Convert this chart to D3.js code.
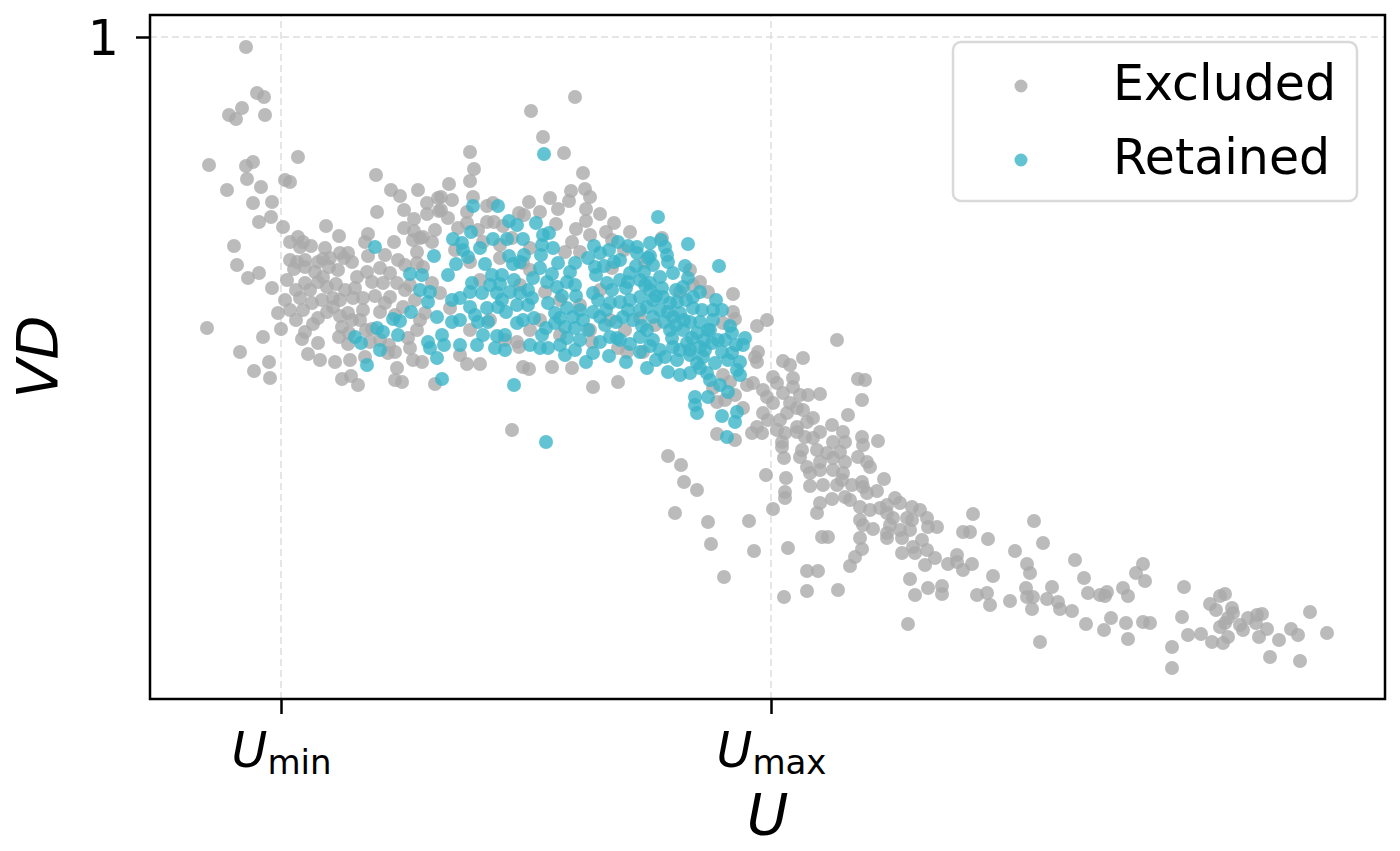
<!DOCTYPE html>
<html>
<head>
<meta charset="utf-8">
<script src="https://cdn.jsdelivr.net/npm/d3@7"></script>
<style>
  body { margin: 0; background: #fff; }
  text { font-family: "DejaVu Sans", sans-serif; fill: #000; }
</style>
</head>
<body>
<div id="chart"></div>
<script>
// U in arbitrary units (U_min = 20, U_max = 69), VD with 1 as the only labelled value
var excluded = [
  [16.5,.990],[17.6,.944],[18.3,.940],[16.1,.929],[14.8,.922],[15.5,.918],[18.4,.922],[21.7,.880],[12.8,.872],[16.5,.871],
  [17.2,.875],[16.6,.858],[20.4,.857],[20.9,.855],[29.5,.862],[14.6,.847],[18.0,.850],[31.0,.847],[17.2,.834],[19.1,.835],
  [29.6,.825],[33.3,.818],[34.6,.834],[34.6,.823],[17.8,.815],[19.0,.820],[20.2,.810],[24.5,.811],[25.8,.801],[28.7,.803],
  [33.3,.806],[21.7,.800],[21.9,.790],[23.0,.791],[28.4,.795],[24.4,.789],[25.9,.784],[26.7,.784],[35.7,.839],[35.8,.826],
  [33.9,.799],[33.2,.797],[35.1,.795],[35.4,.807],[33.6,.785],[15.3,.791],[20.9,.795],[22.2,.795],[15.6,.772],[16.7,.759],
  [17.8,.764],[19.1,.749],[20.6,.757],[21.6,.775],[22.4,.777],[21.3,.768],[22.4,.770],[24.2,.778],[24.9,.779],[24.8,.770],
  [26.3,.779],[23.4,.765],[24.2,.760],[23.7,.755],[24.6,.750],[25.5,.753],[22.4,.754],[21.5,.747],[21.9,.739],[23.1,.734],
  [22.2,.727],[24.6,.725],[25.2,.730],[25.2,.739],[26.7,.724],[27.2,.739],[28.2,.739],[28.2,.727],[27.6,.760],[28.6,.765],
  [29.9,.769],[30.9,.764],[30.2,.754],[31.6,.754],[32.4,.772],[33.6,.774],[19.7,.724],[20.0,.708],[12.6,.709],[18.2,.700],
  [15.9,.685],[17.3,.666],[18.8,.675],[18.9,.659],[23.2,.713],[22.4,.705],[22.1,.698],[23.7,.694],[22.7,.683],[25.8,.700],
  [26.1,.710],[26.8,.704],[26.7,.693],[28.9,.695],[28.4,.680],[30.8,.692],[30.7,.684],[32.7,.699],[33.6,.707],[33.2,.677],
  [34.1,.675],[31.6,.669],[31.4,.657],[32.1,.655],[26.1,.658],[27.0,.661],[27.7,.652],[29.1,.708],[30.4,.734],[29.9,.725],
  [30.9,.740],[32.2,.730],[32.4,.747],[33.4,.737],[31.4,.722],[33.9,.717],[32.9,.752],[27.9,.717],[26.4,.747],[22.9,.747],
  [20.4,.737],[20.9,.777],
  [23.7,.775],[25.7,.767],[27.1,.775],[29.1,.755],[29.4,.741],[27.1,.717],[25.9,.721],[23.7,.719],[21.5,.717],[20.9,.727],
  [24.1,.737],[25.9,.737],[27.4,.749],[28.7,.781],[30.4,.782],[31.7,.777],[31.3,.795],[32.3,.809],[28.5,.707],[29.9,.697],
  [31.4,.685],[32.9,.689],[23.9,.677],[25.4,.675],[26.9,.677],
  [49.4,.940],[45.0,.926],[46.2,.900],[48.3,.884],[38.9,.885],[39.3,.868],[50.2,.864],[38.9,.856],[36.8,.853],[49.0,.846],
  [50.4,.848],[50.9,.840],[36.0,.840],[39.2,.840],[44.8,.835],[46.9,.839],[48.8,.836],[47.7,.828],[50.5,.828],[50.5,.816],
  [53.3,.814],[36.0,.827],[38.6,.825],[40.6,.831],[41.2,.834],[43.8,.824],[44.3,.822],[36.7,.819],[38.6,.814],[40.6,.815],
  [42.2,.811],[34.2,.800],[40.2,.795],[44.9,.789],[49.5,.808],[50.9,.802],[49.1,.795],[48.4,.785],[41.9,.779],[44.2,.774],
  [37.7,.809],[39.7,.807],[41.3,.815],[43.1,.799],[45.9,.825],[47.5,.813],[51.9,.823],[52.5,.805],[54.3,.787],[37.1,.837],
  [33.7,.847],[32.3,.827],[31.9,.841],
  [35.4,.653],[38.6,.673],[39.9,.673],[37.9,.682],[44.2,.670],[44.8,.668],[43.8,.690],[47.1,.670],[49.1,.669],[51.1,.695],
  [53.7,.689],[54.6,.685],[51.2,.650],[53.7,.655],[43.1,.607],[45.9,.717],[34.2,.770],[35.1,.754],[35.9,.744],[34.4,.724],
  [36.9,.729],[42.4,.697],[43.6,.695],
  [39.9,.757],[44.9,.767],[47.9,.737],[51.9,.747],[43.9,.752],[38.9,.775],[46.4,.745],[49.9,.732],[53.1,.769],[53.1,.797],
  [49.9,.785],[54.9,.805],[56.4,.775],[40.9,.717],[38.9,.707],[44.9,.707],[47.9,.702],[50.9,.707],[54.4,.707],[59.9,.745],
  [61.9,.755],[37.4,.787],[41.9,.792],[55.9,.719],[52.9,.717],[57.4,.712],
  [58.1,.799],[60.9,.767],[61.2,.752],[62.7,.745],[65.2,.743],[65.2,.725],[65.4,.718],[64.2,.714],[67.6,.711],[68.6,.717],
  [56.2,.685],[67.7,.685],[67.4,.680],[67.6,.675],[70.2,.676],[70.9,.672],[72.2,.679],[75.6,.697],[71.2,.659],[69.2,.660],
  [69.6,.654],[67.2,.654],[66.6,.652],[64.2,.662],[64.9,.655],[63.2,.649],[63.6,.635],[64.4,.637],[65.4,.642],[66.2,.629],
  [68.2,.647],[68.6,.640],[69.2,.634],[70.2,.644],[71.2,.650],[71.9,.642],[72.7,.642],[73.9,.643],[70.9,.634],[71.6,.629],
  [72.2,.627],[73.2,.619],[72.6,.615],[71.6,.610],[70.6,.624],[69.9,.617],[68.7,.617],[68.2,.624],[67.6,.610],[67.1,.604],
  [68.1,.604],[69.6,.607],[70.4,.604],[70.1,.595],[71.6,.605],[72.4,.600],[73.2,.599],[73.9,.605],[75.1,.612],[76.2,.605],
  [75.2,.595],[76.4,.595],[76.7,.622],[78.1,.637],[77.7,.658],[78.4,.657],[78.1,.600],[78.2,.592],[79.7,.596],[63.6,.603],
  [65.4,.597],
  [70.1,.590],[72.1,.587],[73.6,.587],[74.6,.584],[75.9,.585],[70.3,.579],[71.9,.580],[73.9,.575],[75.2,.579],[76.4,.575],
  [77.7,.580],[78.6,.575],[78.9,.570],[72.6,.570],[73.9,.567],[75.2,.567],[76.2,.564],[72.9,.564],[58.7,.581],[60.0,.572],
  [60.3,.555],[61.6,.547],[68.5,.562],[70.5,.559],[70.4,.545],[70.4,.539],[72.9,.551],[74.2,.552],[75.6,.552],[76.1,.557],
  [77.1,.552],[78.1,.555],[78.2,.550],[78.6,.544],[79.6,.546],[80.3,.558],[73.9,.534],[75.1,.538],[76.4,.540],[76.9,.537],
  [77.9,.530],[78.9,.527],[79.9,.529],[80.6,.532],[81.4,.539],[81.9,.534],[83.1,.530],[83.9,.527],[84.6,.519],[73.6,.524],
  [77.9,.517],[78.2,.512],[79.2,.508],[80.6,.524],[81.2,.519],[80.9,.512],[80.6,.504],[80.6,.499],[81.9,.507],[82.6,.519],
  [82.9,.507],[84.7,.510],[59.4,.524],[62.7,.515],[66.8,.516],[69.2,.528],[63.0,.493],[67.3,.486],[70.7,.489],[74.1,.500],
  [74.7,.500],[77.9,.499],[78.1,.488],[77.4,.480],[76.9,.471],[64.3,.460],[72.6,.466],[73.7,.466],[70.3,.440],[72.6,.446],
  [75.7,.447],[82.9,.458],[83.4,.442],[82.7,.413],[82.1,.484],[83.2,.490],[84.1,.497],[84.6,.487],[84.4,.472],[84.7,.449],
  [83.1,.517],[85.6,.510],[82.1,.499],[83.4,.484],[85.4,.479],[89.2,.523],[88.2,.505],[88.9,.505],[90.7,.498],[87.6,.482],
  [86.7,.473],[87.6,.475],[88.2,.467],[89.1,.473],[91.2,.461],[86.1,.451],[86.1,.443],[89.6,.442],[90.6,.444],[90.9,.432],
  [93.4,.486],[95.3,.516],[96.2,.494],[94.6,.473],[94.9,.464],[94.5,.449],[94.6,.440],[95.2,.440],[95.1,.428],[92.9,.436],
  [97.1,.450],[96.6,.438],[97.7,.435],[97.9,.428],[99.1,.426],[95.9,.395],[99.4,.477],[100.3,.459],[100.7,.444],[101.9,.442],
  [102.6,.445],[102.4,.441],[104.2,.449],[104.7,.441],[100.5,.413],[102.3,.407],[103.0,.419],[104.5,.414],[104.7,.398],[106.2,.473],
  [105.5,.464],[106.4,.456],[106.2,.415],[106.9,.414],
  [110.3,.450],[110.1,.420],[110.7,.402],[112.0,.403],[109.1,.390],[109.1,.369],[113.1,.395],[114.2,.394],[113.9,.441],[114.4,.443],
  [112.9,.433],[113.5,.427],[115.1,.429],[115.2,.424],[114.7,.419],[113.9,.410],[114.7,.400],[114.4,.414],[115.9,.412],[116.2,.407],
  [116.7,.419],[117.6,.422],[118.1,.423],[117.5,.414],[118.6,.408],[117.8,.400],[119.8,.397],[121.0,.408],[121.7,.402],[122.9,.425],
  [124.6,.404],[118.9,.380],[121.9,.376]
];

var retained = [
  [29.4,.790],[32.9,.763],[34.1,.762],[33.9,.747],[34.7,.735],[33.0,.725],[31.2,.718],[31.9,.716],[31.7,.702],[29.6,.709],
  [30.2,.705],[27.4,.700],[28.0,.694],[29.9,.687],[28.6,.672],[34.7,.695],[35.3,.781],
  [46.3,.883],[57.7,.820],[39.2,.831],[41.7,.831],[45.5,.814],[42.8,.816],[43.6,.812],[39.0,.805],[37.2,.798],[38.1,.794],
  [38.2,.787],[38.7,.780],[37.5,.773],[41.2,.798],[42.6,.798],[44.2,.798],[46.2,.802],[46.8,.804],[46.1,.792],[47.2,.789],
  [51.3,.791],[51.9,.784],[53.7,.795],[54.7,.791],[55.6,.790],[56.9,.794],[58.0,.797],[58.4,.790],[60.7,.793],[58.6,.782],
  [58.7,.775],[60.4,.771],[56.9,.781],[55.6,.784],[52.8,.787],[53.9,.777],[42.8,.781],[44.3,.782],[46.0,.782],[47.7,.774],
  [49.4,.774],[40.4,.773],[43.2,.773],[51.4,.770],
  [57.2,.772],[36.7,.762],[39.1,.754],[41.1,.762],[42.1,.762],[40.1,.744],[41.6,.744],[42.9,.745],[43.9,.744],[45.2,.759],
  [46.6,.755],[47.6,.750],[48.6,.755],[49.4,.752],[51.2,.744],[52.6,.754],[53.9,.757],[54.9,.764],[55.9,.757],[56.9,.754],
  [57.9,.760],[59.2,.764],[60.2,.750],[61.2,.740],[34.9,.745],[37.9,.739],[38.9,.730],[35.6,.720],[37.1,.715],[37.9,.717],
  [39.4,.722],[39.7,.715],[40.6,.729],[41.7,.730],[42.1,.737],[43.6,.732],[44.7,.732],[44.2,.717],[43.6,.714],[46.7,.734],
  [47.4,.724],[48.6,.729],[49.2,.720],[47.4,.714],[48.4,.710],[49.4,.709],[50.2,.717],[51.2,.725],[51.9,.720],[52.9,.734],
  [53.9,.735],[54.9,.737],[55.9,.740],[56.6,.730],[57.2,.737],[57.9,.727],[58.9,.734],[59.9,.724],[61.2,.729],[54.2,.720],
  [55.2,.717],[57.2,.720],
  [36.1,.702],[34.9,.689],[35.6,.679],[37.9,.692],[39.6,.692],[40.2,.702],[41.6,.701],[42.4,.702],[41.4,.689],[44.9,.692],
  [46.1,.702],[45.9,.689],[46.7,.689],[47.9,.692],[48.6,.699],[48.4,.682],[49.9,.697],[51.2,.684],[52.9,.700],[52.8,.681],
  [53.6,.699],[55.9,.685],[55.9,.700],[57.2,.697],[57.9,.687],[58.4,.680],[59.6,.677],[58.7,.665],[59.9,.662],[60.9,.664],
  [61.6,.674],[56.6,.669],[36.1,.658],[43.3,.652],[46.5,.595],[61.4,.640],[61.4,.632],[61.6,.624],
  [63.8,.771],[56.9,.747],[58.2,.740],[59.6,.735],[63.2,.727],[64.1,.727],[59.2,.720],[61.9,.715],[63.2,.717],[56.6,.707],
  [58.9,.707],[60.2,.707],[61.6,.704],[62.9,.707],[65.1,.704],[66.4,.699],[66.2,.692],[64.4,.697],[59.2,.690],[60.6,.694],
  [61.9,.690],[63.1,.694],[64.1,.685],[65.1,.684],[60.9,.682],[62.2,.680],[63.4,.674],[65.9,.675],[61.9,.669],[62.6,.664],
  [65.6,.667],[65.9,.662],[62.7,.640],[64.7,.645],[64.1,.621],[65.6,.625],[65.4,.615],[64.6,.600],
  [50.7,.779],[52.3,.771],[53.1,.747],[54.5,.749],[55.5,.771],[56.3,.765],[58.1,.749],[59.5,.747],[60.7,.759],[51.7,.737],
  [52.5,.727],[53.5,.715],[54.7,.727],[56.1,.711],[58.3,.715],[60.3,.717],[61.1,.699],[59.1,.699],[56.9,.691],[54.9,.693],
  [51.9,.695],[50.7,.707],[49.5,.741],[48.1,.741],[47.1,.763],[48.9,.765],[45.9,.769],[44.7,.747],[43.3,.757],[41.9,.753],
  [40.7,.715],[42.5,.725],[45.3,.719],[46.5,.709],[50.5,.675],[54.5,.675],[57.5,.677],[62.9,.657],[63.9,.652],[62.3,.697],
  [64.9,.711],[63.5,.737],[62.1,.727],[60.9,.715],[59.9,.687],
  [51.5,.762],[53.3,.775],[54.7,.755],[56.7,.779],[57.5,.741],[58.7,.725],[60.5,.737],[61.9,.745],[62.7,.707],[63.7,.697],
  [64.7,.677],[65.5,.692],[60.9,.687],[59.5,.712],[55.9,.727],[53.9,.697],[52.4,.712],[49.9,.727],[47.9,.719],[45.1,.739],
  [43.9,.775],[39.9,.789],[40.9,.752],[38.9,.745],[37.1,.737],[36.3,.692],[42.4,.687],[49.4,.687],[56.4,.752],[62.4,.687]
];

var seriesNames = ['Excluded', 'Retained'],
    seriesColors = ['#aaaaaa', '#3bb4c8'];

var xTicks = [{value: 20, main: 'U', sub: 'min'}, {value: 69, main: 'U', sub: 'max'}],
    yTicks = [1];

var width = 1400, height = 851;
var margin = {top: 15, right: 15, bottom: 152, left: 150};

var x = d3.scaleLinear()
    .domain([6.9, 130.4])
    .range([margin.left, width - margin.right]);

var y = d3.scaleLinear()
    .domain([0.338, 1.022])
    .range([height - margin.bottom, margin.top]);

var svg = d3.select('#chart')
  .append('svg')
    .attr('width', width)
    .attr('height', height)
    .style('display', 'block');

// dashed grid at the labelled values
svg.append('g')
  .selectAll('line.vgrid')
  .data(xTicks)
  .enter().append('line')
    .attr('x1', d => x(d.value)).attr('x2', d => x(d.value))
    .attr('y1', y.range()[0]).attr('y2', y.range()[1])
    .attr('stroke', '#dedede').attr('stroke-width', 1.5)
    .attr('stroke-dasharray', '7,4');

svg.append('g')
  .selectAll('line.hgrid')
  .data(yTicks)
  .enter().append('line')
    .attr('x1', x.range()[0]).attr('x2', x.range()[1])
    .attr('y1', d => y(d)).attr('y2', d => y(d))
    .attr('stroke', '#dedede').attr('stroke-width', 1.5)
    .attr('stroke-dasharray', '7,4');

// points
var groups = [excluded, retained];
groups.forEach((pts, i) => {
  svg.append('g')
    .selectAll('circle')
    .data(pts)
    .enter().append('circle')
      .attr('cx', d => x(d[0]))
      .attr('cy', d => y(d[1]))
      .attr('r', 7)
      .attr('fill', seriesColors[i])
      .attr('fill-opacity', 0.8);
});

// axes
var xAxis = svg.append('g')
    .attr('transform', 'translate(0,' + y.range()[0] + ')')
    .call(d3.axisBottom(x).tickValues(xTicks.map(d => d.value)).tickSize(15).tickFormat(''));
xAxis.select('.domain').remove();
xAxis.selectAll('.tick line').attr('stroke-width', 2.5);

var xl = xAxis.selectAll('.tick')
  .data(xTicks)
  .append('text')
    .attr('y', 68)
    .attr('text-anchor', 'middle')
    .style('font-size', '49px');
xl.append('tspan').style('font-style', 'italic').text(d => d.main);
xl.append('tspan').attr('dy', 7).style('font-size', '34px').text(d => d.sub);

var yAxis = svg.append('g')
    .attr('transform', 'translate(' + x.range()[0] + ',0)')
    .call(d3.axisLeft(y).tickValues(yTicks).tickSize(14).tickFormat(d3.format('d')));
yAxis.select('.domain').remove();
yAxis.selectAll('.tick line').attr('stroke-width', 2.5);
yAxis.selectAll('.tick text')
    .attr('x', -31).attr('dy', null).attr('y', 17)
    .style('font-size', '49px')
    .attr('fill', '#000')
    .attr('font-family', null);

// frame
svg.append('rect')
    .attr('x', x.range()[0]).attr('y', y.range()[1])
    .attr('width', x.range()[1] - x.range()[0])
    .attr('height', y.range()[0] - y.range()[1])
    .attr('fill', 'none').attr('stroke', '#000').attr('stroke-width', 2.5);

// axis labels
svg.append('text')
    .attr('x', (x.range()[0] + x.range()[1]) / 2)
    .attr('y', 835)
    .attr('text-anchor', 'middle')
    .style('font-size', '57px').style('font-style', 'italic')
    .text('U');

svg.append('text')
    .attr('transform', 'translate(58,' + ((y.range()[0] + y.range()[1]) / 2) + ') rotate(-90)')
    .attr('text-anchor', 'middle')
    .style('font-size', '57px').style('font-style', 'italic')
    .text('VD');

// legend
var legend = svg.append('g').attr('transform', 'translate(953,42)');
legend.append('rect')
    .attr('width', 404).attr('height', 159)
    .attr('rx', 8).attr('ry', 8)
    .attr('fill', '#fff').attr('fill-opacity', 0.8)
    .attr('stroke', '#d9d9d9').attr('stroke-width', 2.5);

var item = legend.selectAll('g.item')
  .data(seriesNames)
  .enter().append('g')
    .attr('transform', (d, i) => 'translate(0,' + (44 + i * 74) + ')');
item.append('circle')
    .attr('cx', 68).attr('r', 6.5)
    .attr('fill', (d, i) => seriesColors[i]).attr('fill-opacity', 0.8);
item.append('text')
    .attr('x', 160).attr('y', 14)
    .style('font-size', '49px')
    .text(d => d);
</script>
</body>
</html>
